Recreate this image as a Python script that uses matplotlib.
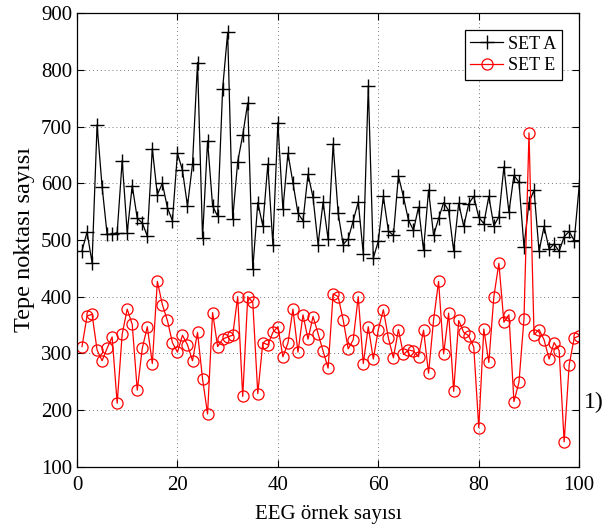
import matplotlib
matplotlib.use("Agg")
import matplotlib.pyplot as plt
import numpy as np

plt.rcParams["font.family"] = ["Liberation Serif", "DejaVu Serif"]

# örnek numaraları 1..100
ornek = np.arange(1, 101)

set_a = [481, 514, 460, 703, 594, 510, 510, 513, 640, 513,
         596, 538, 530, 507, 661, 580, 600, 557, 534, 653,
         623, 560, 634, 813, 504, 675, 560, 542, 767, 866,
         537, 638, 685, 742, 448, 566, 525, 634, 492, 707,
         554, 653, 601, 547, 534, 616, 575, 492, 567, 501,
         669, 547, 492, 502, 534, 567, 476, 772, 468, 498,
         577, 516, 508, 613, 576, 535, 517, 558, 482, 588,
         508, 538, 566, 552, 481, 565, 524, 564, 577, 540,
         529, 577, 525, 541, 629, 549, 614, 602, 488, 566,
         588, 480, 524, 484, 493, 480, 506, 515, 499, 596]

set_e = [312, 366, 369, 306, 287, 309, 329, 212, 334, 378,
         351, 235, 309, 347, 282, 427, 386, 358, 319, 302,
         332, 315, 287, 337, 255, 193, 372, 312, 325, 329,
         332, 400, 224, 400, 390, 229, 319, 315, 337, 347,
         294, 318, 378, 302, 368, 325, 365, 335, 304, 274,
         405, 400, 359, 308, 324, 400, 282, 347, 290, 342,
         377, 327, 292, 342, 298, 306, 304, 294, 341, 265,
         359, 427, 299, 371, 233, 358, 337, 331, 311, 169,
         343, 284, 400, 459, 355, 368, 215, 249, 361, 689,
         333, 342, 324, 290, 319, 305, 144, 280, 327, 331]

fig = plt.figure(figsize=(6.11, 5.28), dpi=100)
ax = fig.add_axes([0.126, 0.116, 0.822, 0.859])

ax.plot(ornek, set_a, color="black", marker="+", markersize=10, markeredgewidth=1.0,
        linewidth=0.9, label="SET A")
ax.plot(ornek, set_e, color="red", marker="o", markersize=8, markerfacecolor="none",
        markeredgewidth=0.9, linewidth=0.9, label="SET E")

ax.set_xlim(0, 100)
ax.set_ylim(100, 900)
ax.set_xticks(np.arange(0, 101, 20))
ax.set_yticks(np.arange(100, 901, 100))
ax.tick_params(direction="in", top=True, right=True, labelsize=15, length=5, width=0.8)
ax.tick_params(axis="x", pad=7)
ax.grid(True, linestyle=(0, (1, 3)), color="#777777", linewidth=0.7)
for s in ax.spines.values():
    s.set_linewidth(0.9)

ax.set_xlabel("EEG örnek sayısı", fontsize=15, labelpad=7)
ax.set_ylabel("Tepe noktası sayısı", fontsize=17.5, labelpad=4)

leg = ax.legend(loc="upper right", fontsize=13, fancybox=False, edgecolor="black",
                framealpha=1, borderaxespad=0.95, handlelength=1.8, borderpad=0.3,
                labelspacing=0.25, handletextpad=0.3)
leg.get_frame().set_linewidth(0.9)

fig.text(0.955, 0.237, "1)", fontsize=17, ha="left", va="center")

fig.savefig("out.png", dpi=100, facecolor="white")
